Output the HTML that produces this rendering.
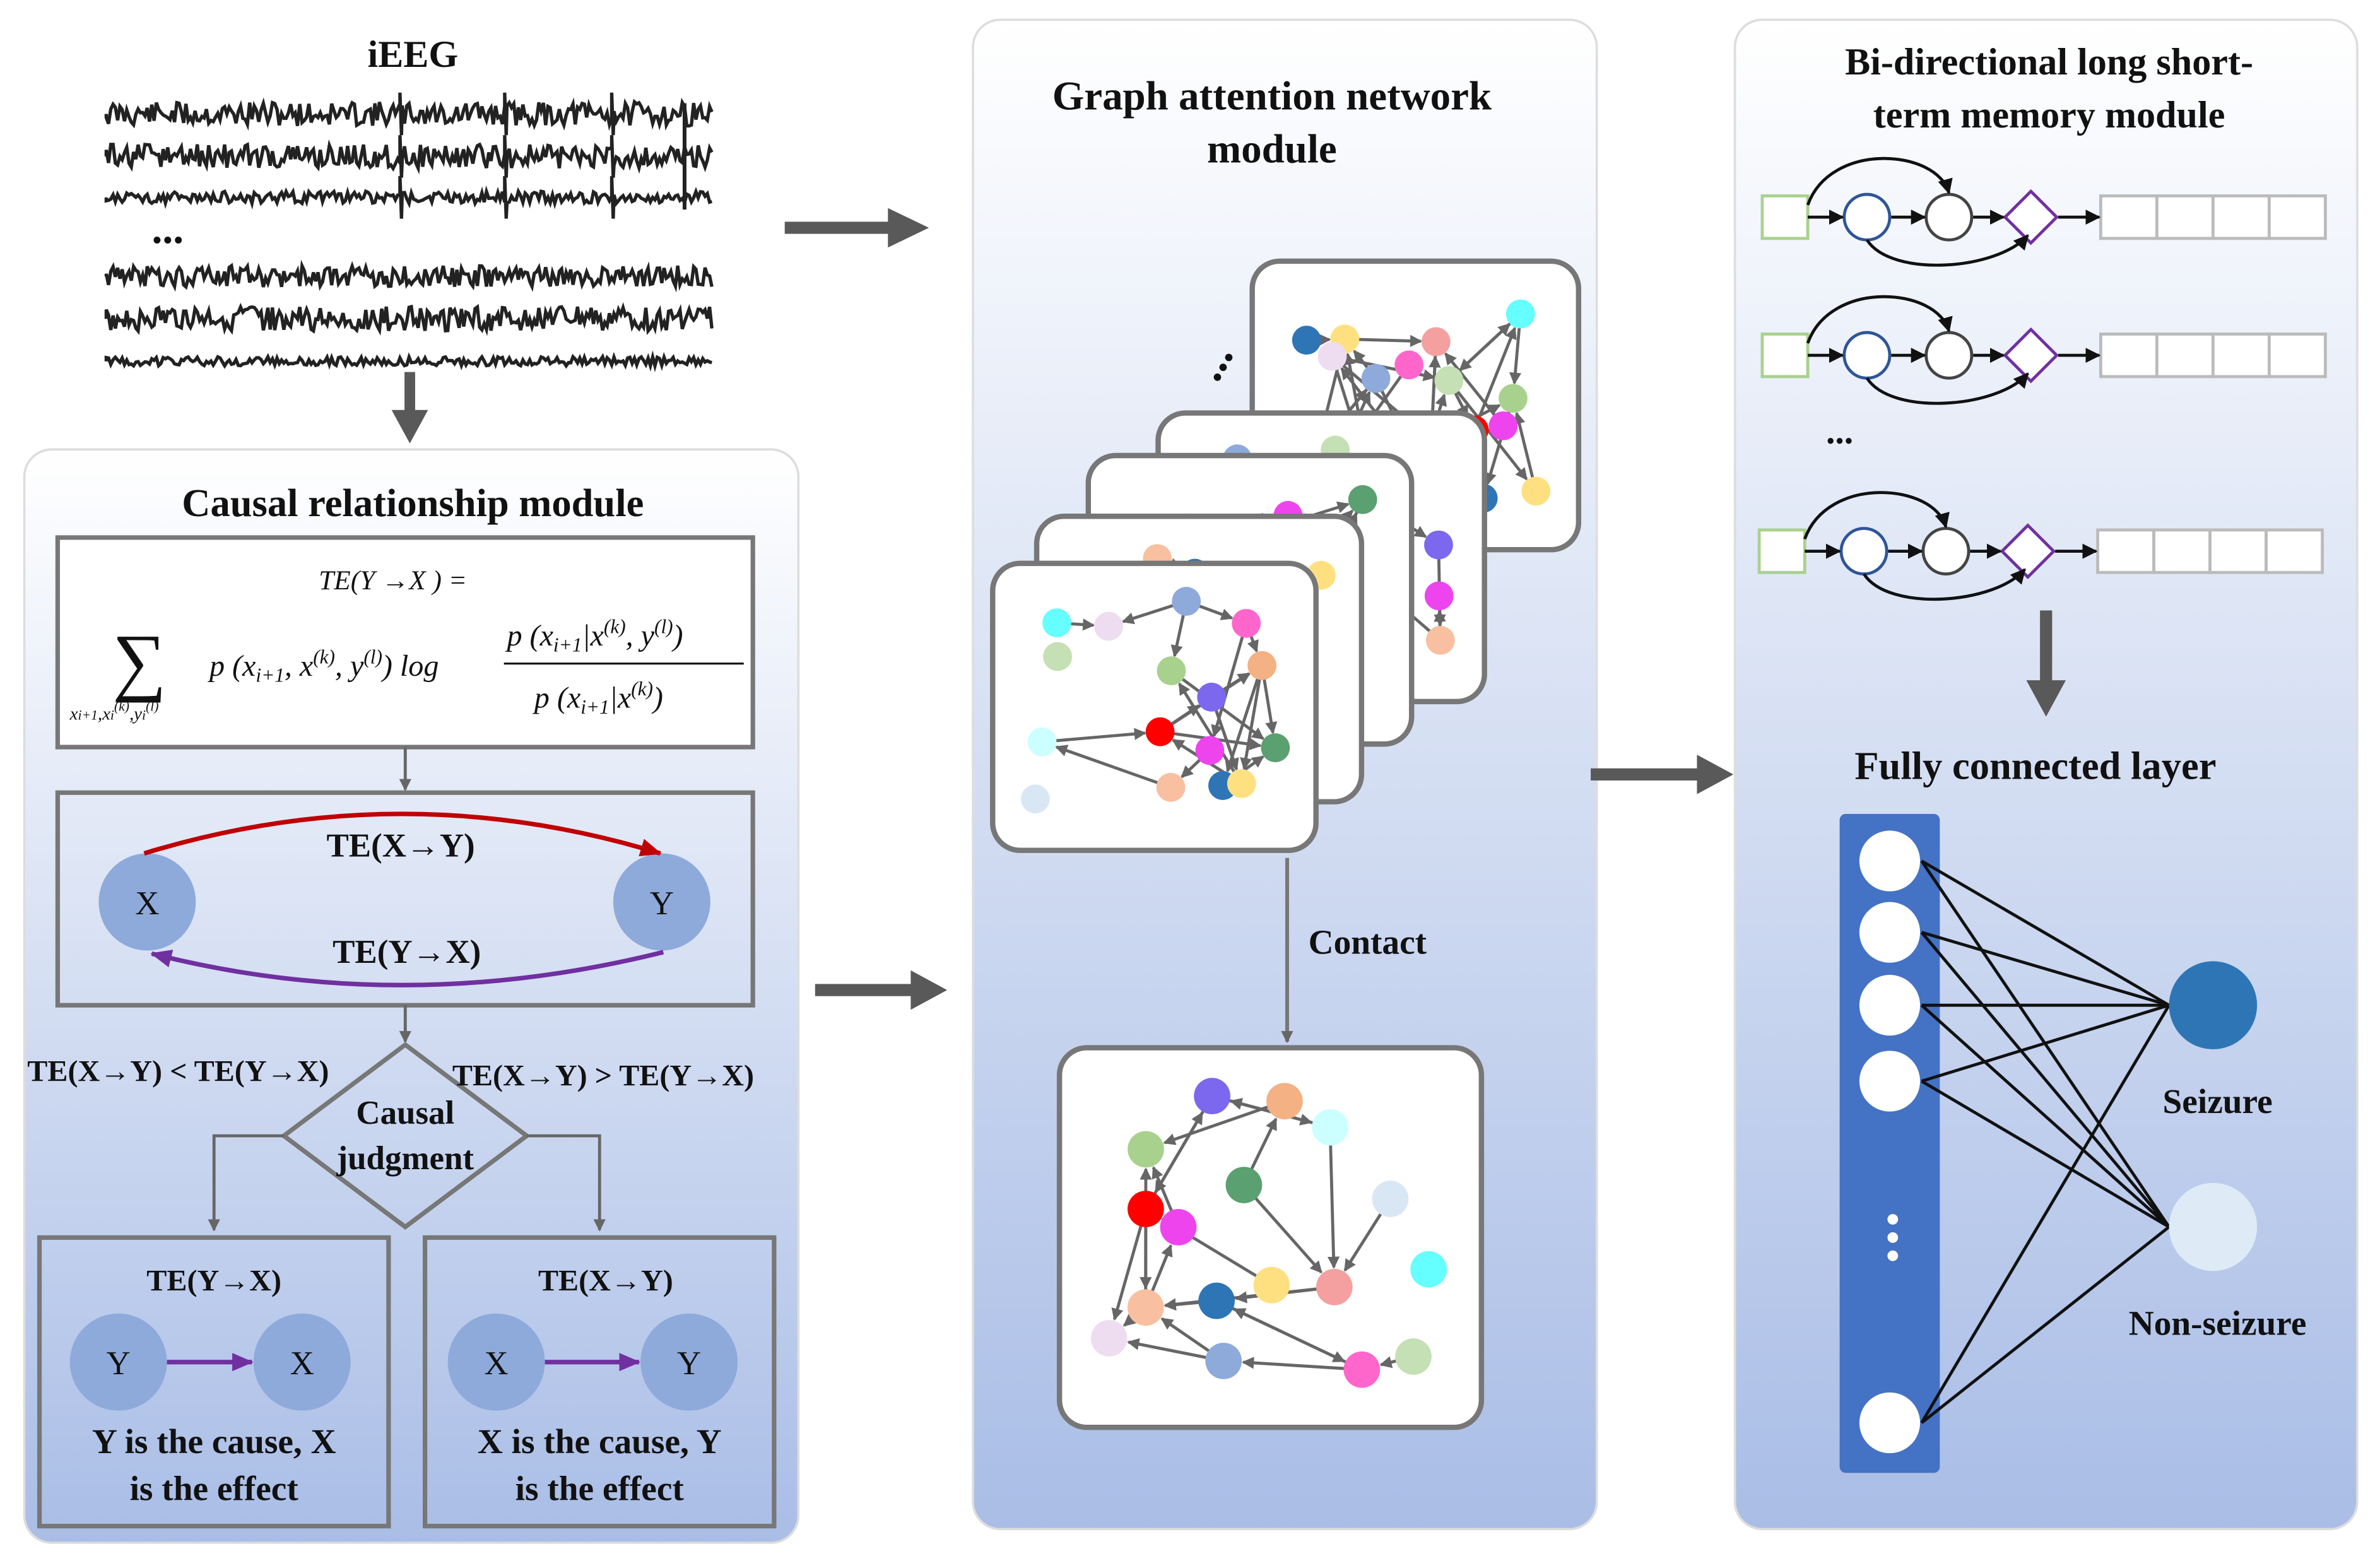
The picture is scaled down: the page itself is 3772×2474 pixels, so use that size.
<!DOCTYPE html>
<html><head><meta charset="utf-8"><style>
html,body{margin:0;padding:0;background:#fff}
svg{display:block}
text{font-family:"Liberation Serif",serif;font-weight:bold;fill:#111}
.it{font-style:italic;font-weight:normal}
</style></head><body>
<svg id="s" width="3772" height="2474" viewBox="0 0 1568 1028" preserveAspectRatio="none" xmlns="http://www.w3.org/2000/svg">
<defs>
<linearGradient id="g" x1="0" y1="0" x2="0" y2="1">
<stop offset="0" stop-color="#ffffff"/><stop offset="1" stop-color="#a9bde6"/></linearGradient>
<marker id="ak" markerWidth="10" markerHeight="10" refX="9" refY="5" orient="auto" markerUnits="userSpaceOnUse"><path d="M0,0 L10,5 L0,10z" fill="#111"/></marker>
<marker id="ar" markerWidth="14" markerHeight="12" refX="13" refY="6" orient="auto" markerUnits="userSpaceOnUse"><path d="M0,0 L14,6 L0,12z" fill="#c00000"/></marker>
<marker id="ap" markerWidth="14" markerHeight="12" refX="13" refY="6" orient="auto" markerUnits="userSpaceOnUse"><path d="M0,0 L14,6 L0,12z" fill="#7030a0"/></marker>
<marker id="ag" markerWidth="8" markerHeight="8" refX="7" refY="4" orient="auto" markerUnits="userSpaceOnUse"><path d="M0,0 L8,4 L0,8z" fill="#666"/></marker>
</defs>

<rect x="16" y="296" width="510" height="720" rx="18" fill="url(#g)" stroke="#ddd" stroke-width="1.5"/>
<rect x="641" y="13" width="411" height="994" rx="18" fill="url(#g)" stroke="#ddd" stroke-width="1.5"/>
<rect x="1143" y="13" width="410" height="994" rx="18" fill="url(#g)" stroke="#ddd" stroke-width="1.5"/>

<text x="272" y="44" font-size="25" text-anchor="middle">iEEG</text>
<g id="sig" fill="none" stroke="#222" stroke-width="2.2"></g>
<text x="100" y="160" font-size="28">...</text>
<line x1="270" y1="245" x2="270" y2="272" stroke="#595959" stroke-width="7"/>
<path d="M258,270 L282,270 L270,292z" fill="#595959"/>

<g fill="#595959">
<rect x="517" y="146" width="70" height="8"/><path d="M585,137 L612,150 L585,163z"/>
<rect x="537" y="648" width="65" height="8"/><path d="M600,639 L624,652 L600,665z"/>
<rect x="1048" y="506" width="72" height="8"/><path d="M1118,497 L1142,510 L1118,523z"/>
<rect x="1344" y="402" width="8" height="48"/><path d="M1335,448 L1361,448 L1348,472z"/>
</g>

<text x="272" y="340" font-size="26" text-anchor="middle">Causal relationship module</text>
<rect x="38" y="354" width="458" height="138" fill="#fff" stroke="#777" stroke-width="3"/>
<text x="210" y="388" font-size="18" class="it">TE(Y →X ) =</text>
<text x="74" y="452" font-size="50" style="font-weight:normal">∑</text>
<text x="46" y="474" font-size="12" class="it">x<tspan font-size="9">i+1</tspan>,x<tspan font-size="9">i</tspan><tspan font-size="9" dy="-6">(k)</tspan><tspan dy="6">,y</tspan><tspan font-size="9">i</tspan><tspan font-size="9" dy="-6">(l)</tspan></text>
<text x="138" y="445" font-size="20" class="it">p (x<tspan font-size="13" dy="4">i+1</tspan><tspan dy="-4">, x</tspan><tspan font-size="13" dy="-8">(k)</tspan><tspan dy="8">, y</tspan><tspan font-size="13" dy="-8">(l)</tspan><tspan dy="8">) log</tspan></text>
<text x="334" y="425" font-size="20" class="it">p (x<tspan font-size="13" dy="4">i+1</tspan><tspan dy="-4">|x</tspan><tspan font-size="13" dy="-8">(k)</tspan><tspan dy="8">, y</tspan><tspan font-size="13" dy="-8">(l)</tspan><tspan dy="8">)</tspan></text>
<line x1="332" y1="437" x2="490" y2="437" stroke="#111" stroke-width="1.3"/>
<text x="352" y="466" font-size="20" class="it">p (x<tspan font-size="13" dy="4">i+1</tspan><tspan dy="-4">|x</tspan><tspan font-size="13" dy="-8">(k)</tspan><tspan dy="8">)</tspan></text>
<line x1="267" y1="492" x2="267" y2="520" stroke="#666" stroke-width="2" marker-end="url(#ag)"/>
<rect x="38" y="522" width="458" height="140" fill="none" stroke="#777" stroke-width="3"/>
<circle cx="97" cy="594" r="32" fill="#8eaadb"/><circle cx="436" cy="594" r="32" fill="#8eaadb"/>
<text x="97" y="602" font-size="22" text-anchor="middle" style="font-weight:normal">X</text>
<text x="436" y="602" font-size="22" text-anchor="middle" style="font-weight:normal">Y</text>
<path d="M95,562 Q265,510 435,562" fill="none" stroke="#c00000" stroke-width="3" marker-end="url(#ar)"/>
<path d="M437,627 Q265,670 100,628" fill="none" stroke="#7030a0" stroke-width="3" marker-end="url(#ap)"/>
<text x="264" y="564" font-size="22" text-anchor="middle">TE(X→Y)</text>
<text x="268" y="634" font-size="22" text-anchor="middle">TE(Y→X)</text>
<line x1="267" y1="662" x2="267" y2="686" stroke="#666" stroke-width="2" marker-end="url(#ag)"/>
<path d="M267,688 L347,748 L267,808 L187,748z" fill="none" stroke="#777" stroke-width="3"/>
<text x="267" y="740" font-size="22" text-anchor="middle">Causal</text>
<text x="267" y="770" font-size="22" text-anchor="middle">judgment</text>
<text x="18" y="712" font-size="20">TE(X→Y) &lt; TE(Y→X)</text>
<text x="298" y="715" font-size="20">TE(X→Y) &gt; TE(Y→X)</text>
<path d="M187,748 L141,748 L141,810" fill="none" stroke="#666" stroke-width="2" marker-end="url(#ag)"/>
<path d="M347,748 L395,748 L395,810" fill="none" stroke="#666" stroke-width="2" marker-end="url(#ag)"/>
<rect x="26" y="815" width="230" height="190" fill="none" stroke="#777" stroke-width="3"/>
<rect x="280" y="815" width="230" height="190" fill="none" stroke="#777" stroke-width="3"/>
<text x="141" y="850" font-size="20" text-anchor="middle">TE(Y→X)</text>
<text x="399" y="850" font-size="20" text-anchor="middle">TE(X→Y)</text>
<circle cx="78" cy="897" r="32" fill="#8eaadb"/><circle cx="199" cy="897" r="32" fill="#8eaadb"/>
<circle cx="327" cy="897" r="32" fill="#8eaadb"/><circle cx="454" cy="897" r="32" fill="#8eaadb"/>
<text x="78" y="905" font-size="22" text-anchor="middle" style="font-weight:normal">Y</text>
<text x="199" y="905" font-size="22" text-anchor="middle" style="font-weight:normal">X</text>
<text x="327" y="905" font-size="22" text-anchor="middle" style="font-weight:normal">X</text>
<text x="454" y="905" font-size="22" text-anchor="middle" style="font-weight:normal">Y</text>
<line x1="110" y1="897" x2="166" y2="897" stroke="#7030a0" stroke-width="3" marker-end="url(#ap)"/>
<line x1="359" y1="897" x2="421" y2="897" stroke="#7030a0" stroke-width="3" marker-end="url(#ap)"/>
<text x="141" y="957" font-size="23" text-anchor="middle">Y is the cause, X</text>
<text x="141" y="988" font-size="23" text-anchor="middle">is the effect</text>
<text x="395" y="957" font-size="23" text-anchor="middle">X is the cause, Y</text>
<text x="395" y="988" font-size="23" text-anchor="middle">is the effect</text>

<text x="838" y="72" font-size="27" text-anchor="middle">Graph attention network</text>
<text x="838" y="107" font-size="27" text-anchor="middle">module</text>
<text x="790" y="248" font-size="30" transform="rotate(-60 800 240)">...</text>
<g id="cards"></g>
<line x1="848" y1="565" x2="848" y2="686" stroke="#777" stroke-width="2.5" marker-end="url(#ag)"/>
<text x="862" y="628" font-size="23">Contact</text>

<text x="1350" y="49" font-size="25" text-anchor="middle">Bi-directional long short-</text>
<text x="1350" y="84" font-size="25" text-anchor="middle">term memory module</text>
<g id="lstm"></g>
<text x="1203" y="292" font-size="24">...</text>
<text x="1341" y="513" font-size="26" text-anchor="middle">Fully connected layer</text>
<rect x="1212" y="536" width="66" height="434" rx="4" fill="#4472c4"/>
<g id="fc"></g>
<circle cx="1247" cy="803" r="3.5" fill="#fff"/><circle cx="1247" cy="815" r="3.5" fill="#fff"/><circle cx="1247" cy="827" r="3.5" fill="#fff"/>
<circle cx="1458" cy="662" r="29" fill="#2e75b6"/>
<circle cx="1458" cy="808" r="29" fill="#deebf7"/>
<text x="1461" y="733" font-size="23" text-anchor="middle">Seizure</text>
<text x="1461" y="879" font-size="23" text-anchor="middle">Non-seizure</text>
</svg>
<script>
var NS="http://www.w3.org/2000/svg";
function el(p,t,a){var e=document.createElementNS(NS,t);for(var k in a)e.setAttribute(k,a[k]);p.appendChild(e);return e;}
var seed=11;function r(){seed=(seed*9301+49297)%233280;return seed/233280;}
var sg=document.getElementById('sig');
var rows=[[75,8,1],[103,8,1],[130,4,1],[182,7,0],[210,8,0],[238,3,0]];
rows.forEach(function(rw,i){var d="M70,"+rw[0];for(var x=70;x<=470;x+=1.5){var y=rw[0]+(r()-0.5)*rw[1]*2;
 d+=" L"+x.toFixed(1)+","+y.toFixed(1);
 if(rw[2]&&(Math.abs(x-263)<0.8||Math.abs(x-333)<0.8||Math.abs(x-403)<0.8)) {d+=" L"+x+","+(rw[0]-14)+" L"+(x+1)+","+(rw[0]+14);}}
 el(sg,'path',{d:d});});
el(sg,'path',{d:"M451,68 L451,138",'stroke-width':2.5});
var cols=["#2e75b6","#8eaadb","#f4b183","#d9e7f5","#66ffff","#a9d18e","#ee44ee","#ffe080","#ff66cc","#ccffff","#f8c0a0","#eedcf0","#7b68ee","#5aa070","#f4a0a0","#c5e0b4","#ff0000"];
var cg=document.getElementById('cards');
function graph(x,y,w,h,big,ids){
 el(cg,'rect',{x:x,y:y,width:w,height:h,rx:18,fill:'#fff',stroke:'#777','stroke-width':3.5});
 var nx=big?5:5,ny=big?4:4,pts=[];
 for(var j=0;j<ny;j++)for(var i=0;i<nx;i++){if(r()<0.15)continue;
  pts.push([x+22+(i+0.5)*(w-44)/nx+(r()-0.5)*(w-44)/nx*0.8, y+20+(j+0.5)*(h-40)/ny+(r()-0.5)*(h-40)/ny*0.8]);}
 var n=pts.length;
 for(var i=0;i<n;i++){for(var j=0;j<3;j++){var k=Math.floor(r()*n);if(k==i)continue;
  var a=pts[i],b=pts[k],dx=b[0]-a[0],dy=b[1]-a[1],L=Math.hypot(dx,dy);if(L>w*0.45||L<25)continue;
  var rr=big?13:10;el(cg,'line',{x1:a[0],y1:a[1],x2:b[0]-dx/L*rr,y2:b[1]-dy/L*rr,stroke:'#666','stroke-width':2,'marker-end':'url(#ag)'});}}
 pts.forEach(function(p,i){el(cg,'circle',{cx:p[0],cy:p[1],r:big?12:9.5,fill:cols[(i*7+ids)%cols.length]});});
}
graph(825,172,215,190,0,0);graph(763,272,215,190,0,1);graph(717,300,213,190,0,2);graph(683,340,214,188,0,3);graph(654,371,213,189,0,4);
graph(698,690,278,250,1,5);
var lg=document.getElementById('lstm');
[[143,1176],[234,1176],[363,1174]].forEach(function(o){var y=o[0],x=o[1];
 el(lg,'rect',{x:x-15,y:y-14,width:30,height:28,fill:'#fff',stroke:'#a9d18e','stroke-width':2});
 el(lg,'circle',{cx:x+54,cy:y,r:15,fill:'#fff',stroke:'#2f5597','stroke-width':2});
 el(lg,'circle',{cx:x+108,cy:y,r:15,fill:'#fff',stroke:'#444','stroke-width':2});
 el(lg,'path',{d:"M"+(x+162)+","+(y-17)+" l17,17 l-17,17 l-17,-17z",fill:'#fff',stroke:'#7030a0','stroke-width':2});
 for(var i=0;i<4;i++)el(lg,'rect',{x:x+208+i*37,y:y-14,width:37,height:28,fill:'#fff',stroke:'#bbb','stroke-width':2});
 var ln=function(a,b){el(lg,'line',{x1:a,y1:y,x2:b,y2:y,stroke:'#111','stroke-width':2,'marker-end':'url(#ak)'});};
 ln(x+15,x+38);ln(x+70,x+92);ln(x+124,x+144);ln(x+180,x+207);
 el(lg,'path',{d:"M"+(x+15)+","+(y-8)+" C"+(x+30)+","+(y-50)+" "+(x+100)+","+(y-45)+" "+(x+108)+","+(y-16),fill:'none',stroke:'#111','stroke-width':2,'marker-end':'url(#ak)'});
 el(lg,'path',{d:"M"+(x+54)+","+(y+15)+" C"+(x+70)+","+(y+40)+" "+(x+140)+","+(y+35)+" "+(x+160)+","+(y+12),fill:'none',stroke:'#111','stroke-width':2,'marker-end':'url(#ak)'});
});
var fg=document.getElementById('fc');var ys=[567,614,662,712,937];
ys.forEach(function(y){[662,808].forEach(function(t){el(fg,'line',{x1:1266,y1:y,x2:1429,y2:t,stroke:'#111','stroke-width':2});});});
ys.forEach(function(y){el(fg,'circle',{cx:1245,cy:y,r:20,fill:'#fff'});});
</script>
</body></html>
